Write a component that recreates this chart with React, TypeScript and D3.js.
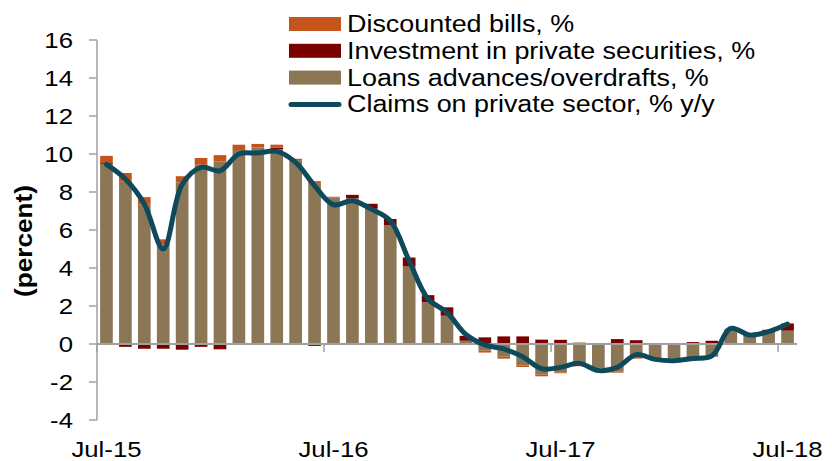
import React from 'react';
import * as d3 from 'd3';

// monthly, Jul-15 .. Jul-18
const months = [
  'Jul-15', 'Aug-15', 'Sep-15', 'Oct-15', 'Nov-15', 'Dec-15', 'Jan-16', 'Feb-16', 'Mar-16', 'Apr-16', 'May-16', 'Jun-16',
  'Jul-16', 'Aug-16', 'Sep-16', 'Oct-16', 'Nov-16', 'Dec-16', 'Jan-17', 'Feb-17', 'Mar-17', 'Apr-17', 'May-17', 'Jun-17',
  'Jul-17', 'Aug-17', 'Sep-17', 'Oct-17', 'Nov-17', 'Dec-17', 'Jan-18', 'Feb-18', 'Mar-18', 'Apr-18', 'May-18', 'Jun-18',
  'Jul-18',
];

const loans = [
  9.47, 8.54, 7.33, 5.23, 8.5, 9.44, 9.61, 10.21, 10.35, 10.24, 9.68, 8.47,
  7.7, 7.68, 7.12, 6.26, 4.08, 2.2, 1.49, 0.17, -0.35, -0.67, -1.14, -1.61,
  -1.49, -1.14, -1.26, -1.46, -0.74, -0.79, -0.76, -0.74, -0.67, 0.75, 0.53, 0.6,
  0.7,
];

const investment = [
  0.05, -0.15, -0.25, -0.25, -0.3, -0.15, -0.28, -0.05, -0.05, 0.1, 0, -0.1,
  0, 0.17, 0.26, 0.32, 0.47, 0.37, 0.44, 0.26, 0.35, 0.4, 0.4, 0.23,
  0.22, 0.07, 0, 0.26, 0.2, 0.05, 0.05, 0.1, 0.17, 0, 0, 0.15,
  0.38,
];

const discounted = [
  0.38, 0.46, 0.4, 0.28, 0.33, 0.35, 0.33, 0.28, 0.18, 0.15, 0.07, 0.1,
  0.05, 0, 0, 0, 0, 0, 0, -0.05, -0.1, -0.1, -0.07, -0.09,
  -0.05, -0.03, 0, -0.05, -0.03, 0, 0, 0, 0, 0.05, 0, 0,
  0,
];

const claims = [
  9.45, 8.68, 7.37, 5.0, 8.4, 9.3, 9.12, 10.0, 10.05, 10.14, 9.56, 8.33,
  7.33, 7.54, 7.1, 6.49, 4.38, 2.37, 1.66, 0.5, -0.05, -0.26, -0.67, -1.3,
  -1.23, -1.02, -1.4, -1.23, -0.56, -0.81, -0.88, -0.76, -0.63, 0.82, 0.47, 0.65,
  1.05,
];

const yTicks = [16, 14, 12, 10, 8, 6, 4, 2, 0, -2, -4];
const xLabels = ['Jul-15', 'Jul-16', 'Jul-17', 'Jul-18'];

const seriesKeys = ['loans', 'investment', 'discounted'];
const seriesNames: Record<string, string> = {
  discounted: 'Discounted bills, %',
  investment: 'Investment in private securities, %',
  loans: 'Loans advances/overdrafts, %',
};
const colors: Record<string, string> = {
  discounted: '#C4541A',
  investment: '#7B0000',
  loans: '#8B7755',
};
const lineColor = '#0E4A5C';
const axisColor = '#A0A0A0';
const font = '"Liberation Sans", Arial, sans-serif';
const SX = 1.17; // text in the original is a bit wide

const App: React.FC = () => {
  const width = 832;
  const height = 461;

  const x = d3.scaleBand<string>().domain(months).range([97, 797]).paddingInner(0.33).paddingOuter(0.165);
  const y = d3.scaleLinear().domain([-4, 16]).range([420, 40]);

  const rows = months.map((m, i) => ({
    month: m,
    loans: loans[i],
    investment: investment[i],
    discounted: discounted[i],
  }));
  const stacked = d3.stack<any>().keys(seriesKeys).offset(d3.stackOffsetDiverging)(rows);

  const line = d3
    .line<number>()
    .x((_, i) => (x(months[i]) as number) + x.bandwidth() / 2)
    .y((d) => y(d))
    .curve(d3.curveCatmullRom.alpha(0.5));

  const step = x.step();
  const tickXs = xLabels.map((m) => (x(m) as number) - (step - x.bandwidth()) / 2);

  const legendItems = ['discounted', 'investment', 'loans', 'claims'];

  return (
    <svg width={width} height={height} style={{ position: 'absolute', left: 0, top: 0 }} fontFamily={font}>
      {/* bars */}
      {stacked.map((s) => (
        <g key={s.key} fill={colors[s.key]}>
          {s.map((d, i) => {
            const top = y(Math.max(d[0], d[1]));
            const h = Math.abs(y(d[0]) - y(d[1]));
            if (h < 0.01) return null;
            return <rect key={i} x={x(months[i])} y={top} width={x.bandwidth()} height={h} />;
          })}
        </g>
      ))}

      {/* y axis */}
      <line x1={97} x2={97} y1={y(16)} y2={y(-4)} stroke={axisColor} strokeWidth={1.5} />
      {yTicks.map((t) => (
        <g key={t}>
          <line x1={89} x2={97} y1={y(t)} y2={y(t)} stroke={axisColor} strokeWidth={1.5} />
          <text
            transform={`translate(73,${y(t) + 8}) scale(${SX},1)`}
            textAnchor="end"
            fontSize={22}
            fill="#000"
          >
            {t}
          </text>
        </g>
      ))}
      <text
        transform={`translate(32,241) rotate(-90)`}
        textAnchor="middle"
        fontSize={24}
        fontWeight="bold"
        textLength={112}
        lengthAdjust="spacingAndGlyphs"
        fill="#000"
      >
        (percent)
      </text>

      {/* zero line + category ticks */}
      <line x1={97} x2={797} y1={y(0)} y2={y(0)} stroke={axisColor} strokeWidth={2} />
      {tickXs.map((tx, i) => (
        <line key={i} x1={tx} x2={tx} y1={y(0)} y2={y(0) + 8} stroke={axisColor} strokeWidth={1.5} />
      ))}
      {xLabels.map((m) => (
        <text
          key={m}
          transform={`translate(${(x(m) as number) + x.bandwidth() / 2},457) scale(${SX},1)`}
          textAnchor="middle"
          fontSize={22}
          fill="#000"
        >
          {m}
        </text>
      ))}

      {/* claims line */}
      <path d={line(claims) as string} fill="none" stroke={lineColor} strokeWidth={5} strokeLinejoin="round" strokeLinecap="round" />

      {/* legend */}
      {legendItems.map((k, i) => {
        const cy = 24 + i * 26.8;
        return (
          <g key={k}>
            {k === 'claims' ? (
              <line x1={291} x2={339} y1={cy} y2={cy} stroke={lineColor} strokeWidth={5} strokeLinecap="round" />
            ) : (
              <rect x={289} y={cy - 7} width={52} height={14} fill={colors[k]} />
            )}
            <text transform={`translate(347,${cy + 8}) scale(${SX},1)`} fontSize={23} fill="#000">
              {k === 'claims' ? 'Claims on private sector, % y/y' : seriesNames[k]}
            </text>
          </g>
        );
      })}
    </svg>
  );
};

export default App;
